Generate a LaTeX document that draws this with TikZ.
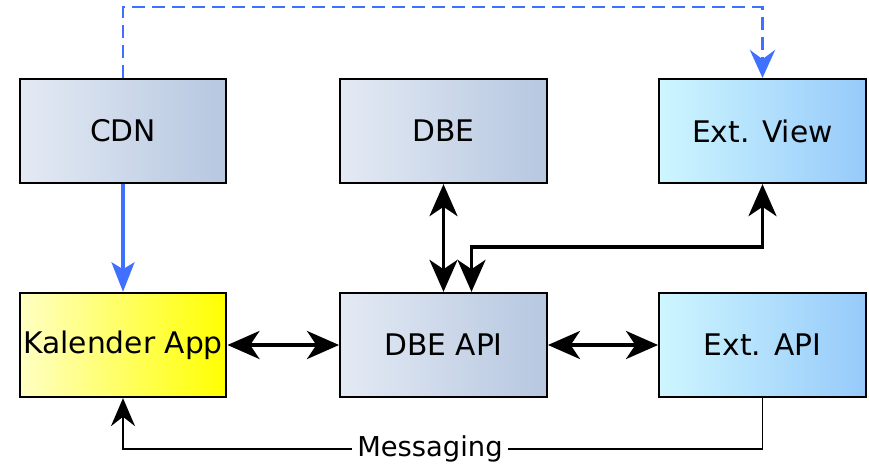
\documentclass[tikz,border=0pt]{standalone}
\usepackage{fontspec}
\setmainfont{DejaVu Sans}
\usetikzlibrary{arrows.meta}

\definecolor{boxgreyL}{RGB}{228,234,244}
\definecolor{boxgreyR}{RGB}{182,199,224}
\definecolor{boxcyanL}{RGB}{206,246,255}
\definecolor{boxcyanR}{RGB}{150,202,250}
\definecolor{boxyelL}{RGB}{255,255,196}
\definecolor{boxyelR}{RGB}{255,255,0}
\definecolor{cdnblue}{RGB}{64,112,255}

\tikzset{
  sysbox/.style={draw=black, line width=1.7pt, minimum width=155pt, minimum height=78pt,
    inner sep=0pt, font=\fontsize{22.3}{26}\selectfont, shading angle=0},
  greybox/.style={sysbox, left color=boxgreyL, right color=boxgreyR},
  cyanbox/.style={sysbox, left color=boxcyanL, right color=boxcyanR},
  yelbox/.style={sysbox, left color=boxyelL, right color=boxyelR},
  linkarr/.style={line width=2.8pt, {Stealth[length=24pt,width=21pt,inset=7pt]}-{Stealth[length=24pt,width=21pt,inset=7pt]}},
  cdnarr/.style={draw=cdnblue, line width=3.4pt, -{Stealth[length=22pt,width=17pt,inset=5pt]}, color=cdnblue},
  viewarr/.style={draw=cdnblue, line width=1.8pt, dash pattern={on 10pt off 5pt},
    -{Stealth[length=21pt,width=19pt,inset=7pt]}, color=cdnblue},
  msgarr/.style={line width=1.3pt, -{Stealth[length=21pt,width=18pt,inset=7pt]}},
  msglabel/.style={fill=white, inner sep=4pt, font=\fontsize{20.5}{24}\selectfont}
}

\begin{document}
\begin{tikzpicture}[x=0.75pt,y=0.75pt,yscale=-1,xscale=1]
\useasboundingbox (0,0) rectangle (869,469);

% Boxes
\node [greybox] (cdn) at (123,131) {CDN};
\node [greybox] (dbe) at (443.5,131) {DBE};
\node [cyanbox] (extview) at (762.5,131) {Ext. View};
\node [yelbox] (kalender) at (123,345) {Kalender App};
\node [greybox] (dbeapi) at (443.5,345) {DBE API};
\node [cyanbox] (extapi) at (762.5,345) {Ext. API};

%Dashed Lines
\coordinate (cdntop) at (123,7);
\draw [viewarr] (cdn.north) -- (cdntop) -| (extview.north);
%Straight Lines
\draw [cdnarr] (cdn.south) -- (kalender.north);
\draw [linkarr] (dbe.south) -- (dbeapi.north);
\draw [linkarr] ([xshift=21pt]dbeapi.north) -- ++(0,-45) -| (extview.south);
\draw [linkarr] (kalender.east) -- (dbeapi.west);
\draw [linkarr] (dbeapi.east) -- (extapi.west);
%Messaging
\coordinate (msgcorner) at (123,449);
\draw [msgarr] (extapi.south) |- node [msglabel, pos=0.76] {Messaging} (msgcorner) -- (kalender.south);

\end{tikzpicture}
\end{document}
